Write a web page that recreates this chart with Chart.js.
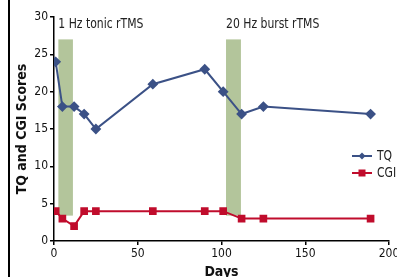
<!DOCTYPE html>
<html><head><meta charset="utf-8">
<script src="https://cdn.jsdelivr.net/npm/chart.js@4/dist/chart.umd.min.js"></script>
<style>html,body{margin:0;padding:0;background:#fff}#wrap{width:397px;height:277px}</style>
</head><body><div id="wrap"><canvas id="c" width="397" height="277"></canvas></div>
<script>
const days = [1, 5, 12, 18, 25, 59, 90, 101, 112, 125, 189];
const tqValues = [24, 18, 18, 17, 15, 21, 23, 20, 17, 18, 17];
const cgiValues = [4, 3, 2, 4, 4, 4, 4, 4, 3, 3, 3];
const bandStarts = [2.6, 102.7];
const bandEnds = [11.3, 111.6];
const bandLow = [3.4, 3.4];
const bandHigh = [27, 27];
const bandLabels = ['1 Hz tonic rTMS', '20 Hz burst rTMS'];
const labelLevel = 29;
const xTicks = [0, 50, 100, 150, 200];
const yTicks = [0, 5, 10, 15, 20, 25, 30];

const FONT = "'Liberation Sans Narrow','DejaVu Sans Condensed','Liberation Sans',sans-serif";
const TQ_COLOR = '#3b5186';
const CGI_COLOR = '#c00c2c';
const BAND_COLOR = '#b3c59b';
const SQUEEZE = 0.86;

function narrowText(ctx, text, x, y, align) {
  ctx.save();
  ctx.translate(x, y);
  ctx.scale(SQUEEZE, 1);
  ctx.textAlign = align;
  ctx.fillText(text, 0, 0);
  ctx.restore();
}

const extras = {
  id: 'extras',
  beforeDraw(chart) {
    const ctx = chart.ctx;
    ctx.save();
    ctx.fillStyle = '#fff';
    ctx.fillRect(0, 0, chart.width, chart.height);
    ctx.fillStyle = '#000';
    ctx.fillRect(8, 0, 2, chart.height);
    ctx.restore();
  },
  beforeDatasetsDraw(chart) {
    const ctx = chart.ctx, x = chart.scales.x, y = chart.scales.y;
    ctx.save();
    ctx.fillStyle = BAND_COLOR;
    for (let i = 0; i < bandStarts.length; i++) {
      const x0 = x.getPixelForValue(bandStarts[i]);
      const x1 = x.getPixelForValue(bandEnds[i]);
      const y0 = y.getPixelForValue(bandHigh[i]);
      const y1 = y.getPixelForValue(bandLow[i]);
      ctx.fillRect(x0, y0, x1 - x0, y1 - y0);
    }
    ctx.fillStyle = '#222';
    ctx.font = "14px " + FONT;
    ctx.textBaseline = 'middle';
    for (let i = 0; i < bandStarts.length; i++) {
      narrowText(ctx, bandLabels[i], x.getPixelForValue(bandStarts[i]), y.getPixelForValue(labelLevel), 'left');
    }
    ctx.restore();
  },
  afterDraw(chart) {
    const ctx = chart.ctx;
    ctx.save();
    const items = chart.data.datasets;
    const lx0 = 352, lx1 = 372, ys = [156, 173];
    items.forEach((ds, i) => {
      const yy = ys[i];
      ctx.strokeStyle = ds.borderColor;
      ctx.lineWidth = 2;
      ctx.beginPath(); ctx.moveTo(lx0, yy); ctx.lineTo(lx1, yy); ctx.stroke();
      ctx.fillStyle = ds.backgroundColor;
      const cx = (lx0 + lx1) / 2;
      if (ds.pointStyle === 'rect') {
        ctx.fillRect(cx - 3.5, yy - 3.5, 7, 7);
      } else {
        ctx.beginPath();
        ctx.moveTo(cx, yy - 3.5); ctx.lineTo(cx + 3.5, yy); ctx.lineTo(cx, yy + 3.5); ctx.lineTo(cx - 3.5, yy);
        ctx.closePath(); ctx.fill();
      }
      ctx.fillStyle = '#222';
      ctx.font = "14px " + FONT;
      ctx.textBaseline = 'middle';
      narrowText(ctx, ds.label, 377, yy, 'left');
    });
    ctx.restore();
  }
};

new Chart(document.getElementById('c'), {
  type: 'line',
  data: {
    datasets: [
      { label: 'TQ', data: days.map((d, i) => ({x: d, y: tqValues[i]})), borderColor: TQ_COLOR, backgroundColor: TQ_COLOR,
        borderWidth: 2, pointStyle: 'rectRot', pointRadius: 4, pointHoverRadius: 4, tension: 0 },
      { label: 'CGI', data: days.map((d, i) => ({x: d, y: cgiValues[i]})), borderColor: CGI_COLOR, backgroundColor: CGI_COLOR,
        borderWidth: 2, pointStyle: 'rect', pointRadius: 4, pointHoverRadius: 4, tension: 0 }
    ]
  },
  options: {
    responsive: false,
    animation: false,
    events: [],
    layout: { padding: { left: 0, right: 8, top: 17, bottom: 0 } },
    plugins: { legend: { display: false }, tooltip: { enabled: false } },
    scales: {
      x: {
        type: 'linear', min: 0, max: 200,
        afterBuildTicks(s) { s.ticks = xTicks.map(v => ({value: v})); },
        afterFit(s) { s.height = 36; s.paddingRight = 0; s.paddingLeft = 0; },
        grid: { display: true, drawOnChartArea: false, drawTicks: true, tickLength: 4, color: '#000', lineWidth: 1.5 },
        border: { color: '#000', width: 1.5 },
        ticks: { color: '#111', font: { family: FONT, size: 12 }, padding: 2, maxRotation: 0 },
        title: { display: true, text: 'Days', color: '#111', font: { family: FONT, size: 14, weight: 'bold' }, padding: { top: 0, bottom: -4 } }
      },
      y: {
        type: 'linear', min: 0, max: 30,
        afterBuildTicks(s) { s.ticks = yTicks.map(v => ({value: v})); },
        afterFit(s) { s.width = 54; },
        grid: { display: true, drawOnChartArea: false, drawTicks: true, tickLength: 4, color: '#000', lineWidth: 1.5 },
        border: { color: '#000', width: 1.5 },
        ticks: { color: '#111', font: { family: FONT, size: 12 }, padding: 2 },
        title: { display: true, text: 'TQ and CGI Scores', color: '#111', font: { family: FONT, size: 14, weight: 'bold' }, padding: { top: 14, bottom: 0 } }
      }
    }
  },
  plugins: [extras]
});
</script>
</body></html>
